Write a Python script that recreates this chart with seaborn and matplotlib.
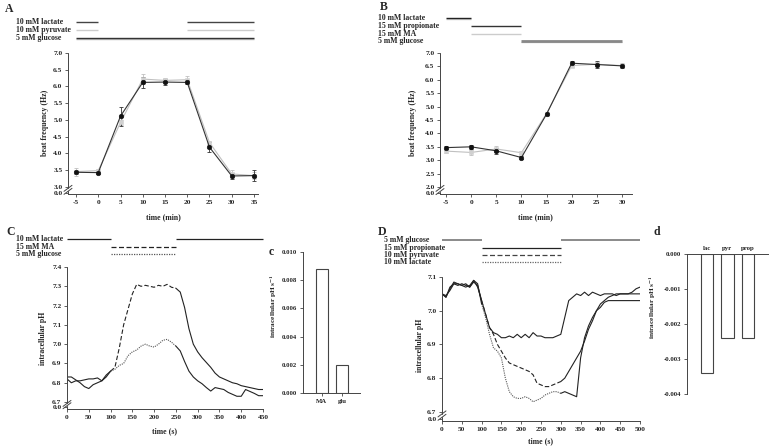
import numpy as np
import pandas as pd
import matplotlib
matplotlib.use("Agg")
import matplotlib.pyplot as plt
import seaborn as sns
from matplotlib.transforms import blended_transform_factory as btf

# ---------------- data ----------------
a_time = [-5, 0, 5, 10, 15, 20, 25, 30, 35]
a_lac = [3.43, 3.42, 5.11, 6.12, 6.13, 6.12, 4.18, 3.32, 3.33]
a_lac_err = [0.05, 0.05, 0.28, 0.17, 0.08, 0.06, 0.15, 0.10, 0.17]
a_pyr = [3.45, 3.48, 4.92, 6.22, 6.18, 6.20, 4.32, 3.38, 3.33]
a_pyr_err = [0.12, 0.06, 0.08, 0.15, 0.08, 0.10, 0.06, 0.12, 0.10]

b_time = [-5, 0, 5, 10, 15, 20, 25, 30]
b_prop = [3.47, 3.50, 3.35, 3.10, 4.72, 6.62, 6.57, 6.52]
b_prop_err = [0.07, 0.08, 0.10, 0.06, 0.05, 0.07, 0.12, 0.08]
b_ma = [3.34, 3.29, 3.42, 3.28, 4.74, 6.53, 6.58, 6.53]
b_ma_err = [0.08, 0.08, 0.12, 0.06, 0.06, 0.06, 0.10, 0.10]

c_time = list(range(0, 451, 10))
c_ma = [6.83, 6.83, 6.815, 6.80, 6.78, 6.77, 6.79, 6.80, 6.81, 6.84,
        6.86, 6.88, 6.98, 7.10, 7.18, 7.26, 7.31, 7.30, 7.305, 7.30,
        7.295, 7.305, 7.30, 7.31, 7.295, 7.29, 7.27, 7.19, 7.08, 7.00,
        6.96, 6.93, 6.905, 6.88, 6.85, 6.83, 6.82, 6.81, 6.80, 6.795,
        6.785, 6.78, 6.775, 6.77, 6.765, 6.765]
c_glc = [6.82, 6.80, 6.81, 6.81, 6.815, 6.82, 6.82, 6.825, 6.81, 6.83,
         6.86, 6.87, 6.89, 6.90, 6.94, 6.96, 6.97, 6.99, 7.00, 6.99,
         6.985, 7.00, 7.02, 7.025, 7.01, 6.99, 6.965, 6.91, 6.86, 6.83,
         6.81, 6.795, 6.775, 6.757, 6.775, 6.77, 6.765, 6.75, 6.74, 6.73,
         6.73, 6.765, 6.755, 6.745, 6.733, 6.733]

cbar_cat = ["MA", "glu"]
cbar_val = [0.0088, 0.0020]

d_time = list(range(0, 501, 10))
d_prop = [7.05, 7.04, 7.07, 7.08, 7.075, 7.08, 7.075, 7.07, 7.09, 7.07,
          7.03, 6.99, 6.95, 6.935, 6.93, 6.92, 6.92, 6.925, 6.92, 6.93,
          6.92, 6.93, 6.92, 6.935, 6.925, 6.925, 6.92, 6.92, 6.92, 6.925,
          6.93, 6.98, 7.03, 7.04, 7.05, 7.045, 7.055, 7.045, 7.055, 7.05,
          7.045, 7.05, 7.05, 7.05, 7.045, 7.05, 7.05, 7.05, 7.055, 7.065, 7.07]
d_pyr = [7.05, 7.045, 7.06, 7.08, 7.08, 7.075, 7.08, 7.07, 7.085, 7.075,
         7.03, 6.99, 6.95, 6.93, 6.90, 6.88, 6.86, 6.845, 6.84, 6.835,
         6.83, 6.825, 6.82, 6.81, 6.785, 6.78, 6.775, 6.775, 6.78, 6.785,
         6.79, 6.80, 6.82, 6.84, 6.86, 6.88, 6.91, 6.945, 6.97, 7.00,
         7.02, 7.03, 7.04, 7.045, 7.05, 7.05, 7.05, 7.05, 7.05, 7.05, 7.05]
d_lac = [7.05, 7.04, 7.065, 7.085, 7.08, 7.075, 7.07, 7.075, 7.09, 7.08,
         7.02, 6.98, 6.93, 6.89, 6.88, 6.86, 6.80, 6.76, 6.745, 6.74,
         6.74, 6.745, 6.74, 6.73, 6.735, 6.74, 6.75, 6.755, 6.76, 6.76,
         6.755, 6.76, 6.755, 6.75, 6.745, 6.86, 6.92, 6.955, 6.98, 7.00,
         7.01, 7.025, 7.03, 7.03, 7.03, 7.03, 7.03, 7.03, 7.03, 7.03, 7.03]

dbar_cat = ["lac", "pyr", "prop"]
dbar_val = [-0.0034, -0.0024, -0.0024]

# ---------------- style ----------------
sns.set_style("ticks")
plt.rcParams["font.family"] = ["Liberation Serif", "DejaVu Serif"]
plt.rcParams["font.weight"] = "bold"
plt.rcParams["mathtext.fontset"] = "stix"
plt.rcParams["axes.unicode_minus"] = False

W, H = 772, 448
SP = "#444444"
FS = 5.3
LFS = 5.6
fig = plt.figure(figsize=(W / 100, H / 100), dpi=100)


def add_ax(l, r, b, t):
    ax = fig.add_axes([l / W, 1 - b / H, (r - l) / W, (b - t) / H])
    ax.set_facecolor("none")
    for s in ax.spines.values():
        s.set_color(SP)
        s.set_linewidth(0.7)
    ax.spines["top"].set_visible(False)
    ax.spines["right"].set_visible(False)
    ax.tick_params(labelsize=FS, length=2, width=0.6, pad=2, color=SP)
    return ax


def boldticks(ax, fs=FS):
    for lab in ax.get_xticklabels() + ax.get_yticklabels():
        lab.set_fontweight("bold")
        lab.set_fontsize(fs)


def ftext(x, y, s, **kw):
    kw.setdefault("fontsize", LFS)
    kw.setdefault("fontweight", "bold")
    fig.text(x / W, 1 - y / H, s, **kw)


def ybreak(ax, ylo, yhi):
    y0, y1 = ax.get_ylim()
    ax.spines["left"].set_visible(False)
    tr = btf(ax.transAxes, ax.transData)
    ax.plot([0, 0], [y0, ylo], transform=tr, color=SP, lw=0.7, clip_on=False)
    ax.plot([0, 0], [yhi, y1], transform=tr, color=SP, lw=0.7, clip_on=False)
    pos = ax.get_position()
    dx = 4.0 / (pos.width * W)
    dd = 3.0 * (y1 - y0) / (pos.height * H)
    for yy in (ylo, yhi):
        ax.plot([-dx, dx], [yy - dd, yy + dd], transform=tr, color=SP,
                lw=0.7, clip_on=False)


def ind(ax, x0, x1, ypx, **kw):
    tr = btf(ax.transData, fig.transFigure)
    ax.plot([x0, x1], [1 - ypx / H] * 2, transform=tr, clip_on=False,
            solid_capstyle="butt", **kw)


def series(ax, x, y, e, color, mcolor, marker, ms):
    ax.errorbar(x, y, yerr=e, fmt="none", ecolor=color, elinewidth=0.6,
                capsize=1.6, capthick=0.6, zorder=2)
    sns.lineplot(x=x, y=y, ax=ax, color=color, linewidth=0.8, marker=marker,
                 markersize=ms, markerfacecolor=mcolor,
                 markeredgecolor=mcolor, markeredgewidth=0.4, zorder=3)


def seg(ax, t, v, lo, hi, **kw):
    t = np.asarray(t)
    v = np.asarray(v)
    m = (t >= lo) & (t <= hi)
    sns.lineplot(x=t[m], y=v[m], ax=ax, estimator=None, sort=False, **kw)


# ---------------- Panel A ----------------
axA = add_ax(68, 258, 194, 53)
series(axA, a_time, a_pyr, a_pyr_err, "#c0c0c0", "#d0d0d0", "s", 3)
series(axA, a_time, a_lac, a_lac_err, "#333333", "#111111", "o", 3.3)
axA.set_ylim(2.78, 7.0)
axA.set_xlim(-6.8, 35.9)
axA.set_xticks(a_time)
axA.set_xticklabels([str(v) for v in a_time])
yt = [2.81] + [3.0 + 0.5 * i for i in range(9)]
axA.set_yticks(yt)
axA.set_yticklabels(["0.0"] + [f"{v:.1f}" for v in yt[1:]])
axA.set_xlabel("")
axA.set_ylabel("")
boldticks(axA)
ybreak(axA, 2.86, 2.95)
ind(axA, -5, 0, 22, color="#444444", lw=1.0)
ind(axA, 20, 35, 22, color="#444444", lw=1.0)
ind(axA, -5, 0, 30, color="#cccccc", lw=1.0)
ind(axA, 20, 35, 30, color="#cccccc", lw=1.0)
ind(axA, -5, 35, 38.8, color="#bbbbbb", lw=1.0)
ind(axA, -5, 35, 37.8, color="#333333", lw=1.0)
axA.set_xlim(-6.8, 35.9)
ftext(16, 22, "10 mM lactate", va="center")
ftext(16, 30, "10 mM pyruvate", va="center")
ftext(16, 38, "5 mM glucose", va="center")
ftext(45, 123, "beat frequency (Hz)", rotation=90, ha="center", va="center")
ftext(163, 217, "time (min)", ha="center", va="center")
ftext(5, 9, "A", fontsize=8.5, va="center")

# ---------------- Panel B ----------------
axB = add_ax(440, 632, 194, 53)
series(axB, b_time, b_ma, b_ma_err, "#c0c0c0", "#d0d0d0", "s", 3)
series(axB, b_time, b_prop, b_prop_err, "#333333", "#111111", "o", 3.3)
axB.set_ylim(1.74, 7.0)
yt = [1.78] + [2.0 + 0.5 * i for i in range(11)]
axB.set_yticks(yt)
axB.set_yticklabels(["0.0"] + [f"{v:.1f}" for v in yt[1:]])
axB.set_xticks(b_time)
axB.set_xticklabels([str(v) for v in b_time])
axB.set_xlabel("")
axB.set_ylabel("")
boldticks(axB)
ybreak(axB, 1.83, 1.95)
ind(axB, -5, 0, 19, color="#cccccc", lw=1.0)
ind(axB, -5, 0, 18, color="#222222", lw=1.0)
ind(axB, 0, 10, 26, color="#333333", lw=1.0)
ind(axB, 0, 10, 34, color="#cccccc", lw=1.0)
ind(axB, 10, 30, 42.5, color="#cccccc", lw=1.0)
ind(axB, 10, 30, 41, color="#888888", lw=2.0)
axB.set_xlim(-6.2, 32)
ftext(378, 18.5, "10 mM lactate", va="center")
ftext(378, 26, "15 mM propionate", va="center")
ftext(378, 34, "15 mM MA", va="center")
ftext(378, 41, "5 mM glucose", va="center")
ftext(413, 123, "beat frequency (Hz)", rotation=90, ha="center", va="center")
ftext(535, 217, "time (min)", ha="center", va="center")
ftext(380, 7, "B", fontsize=8.5, va="center")

# ---------------- Panel C ----------------
axC = add_ax(67, 263, 409, 267)
K = "#222222"
seg(axC, c_time, c_ma, 0, 100, color=K, linewidth=0.8)
seg(axC, c_time, c_ma, 100, 250, color=K, linewidth=0.8, linestyle=(0, (4, 2)))
seg(axC, c_time, c_ma, 250, 450, color=K, linewidth=0.8)
seg(axC, c_time, c_glc, 0, 100, color=K, linewidth=0.8)
seg(axC, c_time, c_glc, 100, 250, color="#555555", linewidth=0.8, linestyle=(0, (1, 1)))
seg(axC, c_time, c_glc, 250, 450, color=K, linewidth=0.8)
axC.set_xlim(0, 450)
axC.set_ylim(6.664, 7.4)
yt = [6.674] + [6.7 + 0.1 * i for i in range(8)]
axC.set_yticks(yt)
axC.set_yticklabels(["0.0"] + [f"{v:.1f}" for v in yt[1:]])
axC.set_xticks(list(range(0, 451, 50)))
axC.set_xticklabels([str(v) for v in range(0, 451, 50)])
axC.set_xlabel("")
axC.set_ylabel("")
boldticks(axC)
ybreak(axC, 6.681, 6.693)
ind(axC, 0, 100, 239, color=K, lw=0.9)
ind(axC, 250, 450, 239, color=K, lw=0.9)
ind(axC, 100, 250, 247, color=K, lw=0.9, linestyle=(0, (4, 2)))
ind(axC, 100, 250, 254, color="#555555", lw=0.9, linestyle=(0, (1, 1)))
axC.set_xlim(0, 450)
ftext(16, 239, "10 mM lactate", va="center")
ftext(16, 247, "15 mM MA", va="center")
ftext(16, 254, "5 mM glucose", va="center")
ftext(43, 338, "intracellular pH", rotation=90, ha="center", va="center")
ftext(165, 431, "time (s)", ha="center", va="center")
ftext(6, 232, "C", fontsize=8.5, va="center")

# ---------------- Panel c ----------------
axc = add_ax(303, 360, 393, 252)
sns.barplot(x=cbar_cat, y=cbar_val, ax=axc, color="white", edgecolor="#444444",
            linewidth=0.8, width=0.6, saturation=1)
axc.set_xlim(-0.95, 1.9)
axc.set_ylim(0, 0.010)
axc.set_yticks([0.0, 0.002, 0.004, 0.006, 0.008, 0.010])
axc.set_yticklabels([f"{v:.3f}" for v in [0.0, 0.002, 0.004, 0.006, 0.008, 0.010]])
axc.set_xlabel("")
axc.set_ylabel("")
boldticks(axc, 4.9)
ftext(274, 306, r"intracellular pH s$^{-1}$", rotation=90, ha="center", va="center",
      fontsize=5.3)
ftext(269, 252, "c", fontsize=8.5, va="center")

# ---------------- Panel D ----------------
axD = add_ax(442, 640, 421, 277)
G = "#777777"
seg(axD, d_time, d_prop, 0, 500, color=K, linewidth=0.8)
seg(axD, d_time, d_pyr, 0, 100, color=K, linewidth=0.8)
seg(axD, d_time, d_pyr, 100, 300, color=K, linewidth=0.8, linestyle=(0, (4, 2)))
seg(axD, d_time, d_pyr, 300, 500, color=K, linewidth=0.8)
seg(axD, d_time, d_lac, 0, 100, color=K, linewidth=0.8)
seg(axD, d_time, d_lac, 100, 300, color="#555555", linewidth=0.8, linestyle=(0, (1, 1)))
seg(axD, d_time, d_lac, 300, 500, color=K, linewidth=0.8)
axD.set_xlim(0, 500)
axD.set_ylim(6.673, 7.1)
yt = [6.679, 6.7, 6.8, 6.9, 7.0, 7.1]
axD.set_yticks(yt)
axD.set_yticklabels(["0.0", "6.7", "6.8", "6.9", "7.0", "7.1"])
axD.set_xticks(list(range(0, 501, 50)))
axD.set_xticklabels([str(v) for v in range(0, 501, 50)])
axD.set_xlabel("")
axD.set_ylabel("")
boldticks(axD)
ybreak(axD, 6.684, 6.694)
ind(axD, 0, 100, 240, color=G, lw=1.2)
ind(axD, 300, 500, 240, color=G, lw=1.2)
ind(axD, 100, 300, 248, color=K, lw=0.9)
ind(axD, 100, 300, 255, color="#444444", lw=0.9, linestyle=(0, (4, 2)))
ind(axD, 100, 300, 262, color="#666666", lw=0.9, linestyle=(0, (1, 1)))
axD.set_xlim(0, 500)
ftext(384, 240, "5 mM glucose", va="center")
ftext(384, 248, "15 mM propionate", va="center")
ftext(384, 255, "10 mM pyruvate", va="center")
ftext(384, 262, "10 mM lactate", va="center")
ftext(420, 345, "intracellular pH", rotation=90, ha="center", va="center")
ftext(541, 441, "time (s)", ha="center", va="center")
ftext(378, 232, "D", fontsize=8.5, va="center")

# ---------------- Panel d ----------------
axd = add_ax(687, 768, 394, 254)
sns.barplot(x=dbar_cat, y=dbar_val, ax=axd, color="white", edgecolor="#444444",
            linewidth=0.8, width=0.6, saturation=1)
axd.set_xlim(-0.98, 2.98)
axd.set_ylim(-0.004, 0.0)
axd.spines["top"].set_visible(True)
axd.spines["bottom"].set_visible(False)
axd.xaxis.tick_top()
axd.tick_params(axis="x", length=0, pad=2)
yv = [-0.004, -0.003, -0.002, -0.001, 0.0]
axd.set_yticks(yv)
axd.set_yticklabels([f"{v:.3f}" if v != 0 else "0.000" for v in yv])
axd.set_xlabel("")
axd.set_ylabel("")
boldticks(axd, 4.9)
ftext(653, 307, r"intracellular pH s$^{-1}$", rotation=90, ha="center", va="center",
      fontsize=5.3)
ftext(653, 232, "d", fontsize=8.5, va="center")

fig.savefig("out.png", dpi=100)
